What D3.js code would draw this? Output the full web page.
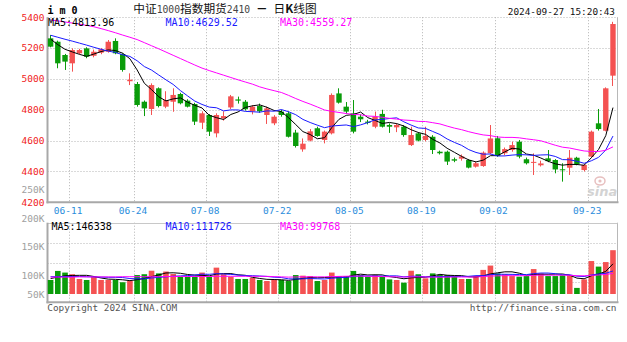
<!DOCTYPE html>
<html>
<head>
<meta charset="utf-8">
<script src="https://cdn.jsdelivr.net/npm/d3@7"></script>
<style>
  html, body { margin: 0; padding: 0; background: #fff; }
  svg { display: block; }
</style>
</head>
<body>
<svg id="chart" width="627" height="342"></svg>
<script>
// ---- IM2410 daily bars (trading days, MM-DD) ----
const dates = [
  "06-06","06-07","06-11","06-12","06-13","06-14","06-17","06-18","06-19","06-20",
  "06-21","06-24","06-25","06-26","06-27","06-28","07-01","07-02","07-03","07-04",
  "07-05","07-08","07-09","07-10","07-11","07-12","07-15","07-16","07-17","07-18",
  "07-19","07-22","07-23","07-24","07-25","07-26","07-29","07-30","07-31","08-01",
  "08-02","08-05","08-06","08-07","08-08","08-09","08-12","08-13","08-14","08-15",
  "08-16","08-19","08-20","08-21","08-22","08-23","08-26","08-27","08-28","08-29",
  "08-30","09-02","09-03","09-04","09-05","09-06","09-09","09-10","09-11","09-12",
  "09-13","09-18","09-19","09-20","09-23","09-24","09-25","09-26","09-27"
];
const opens = [
  5263,5241,5155,5101,5166,5198,5150,5170,5176,5246,
  5161,4985,4967,4852,4805,4939,4820,4852,4902,4859,
  4837,4716,4766,4647,4744,4815,4867,4852,4790,4824,
  4766,4712,4788,4777,4652,4543,4600,4680,4604,4647,
  4906,4820,4777,4755,4723,4690,4773,4701,4686,4690,
  4571,4647,4604,4625,4528,4528,4479,4483,4474,4431,
  4435,4518,4615,4518,4539,4593,4479,4460,4440,4485,
  4474,4414,4424,4489,4409,4496,4712,4664,5021
];
const highs = [
  5284,5248,5162,5198,5195,5205,5190,5200,5252,5263,
  5166,5036,4980,4860,4971,4945,4920,4939,4910,4868,
  4845,4790,4772,4777,4790,4896,4885,4863,4830,4840,
  4820,4765,4800,4790,4670,4614,4675,4690,4665,4906,
  4939,4850,4863,4770,4735,4788,4800,4712,4712,4700,
  4690,4655,4690,4635,4535,4535,4490,4510,4480,4462,
  4530,4701,4630,4555,4593,4604,4490,4517,4470,4539,
  4480,4453,4539,4495,4450,4665,4805,4945,5370
];
const lows = [
  5205,5069,5058,5047,5158,5134,5140,5160,5170,5160,
  5047,4960,4820,4759,4766,4815,4810,4787,4835,4815,
  4701,4675,4630,4621,4730,4805,4840,4795,4770,4780,
  4708,4700,4755,4620,4555,4528,4595,4625,4582,4640,
  4840,4775,4647,4720,4705,4680,4685,4650,4655,4625,
  4565,4595,4595,4513,4510,4442,4460,4470,4420,4425,
  4430,4510,4495,4505,4528,4485,4445,4377,4432,4460,
  4388,4334,4377,4440,4400,4490,4665,4660,4954
];
const closes = [
  5209,5101,5112,5187,5187,5144,5176,5192,5241,5166,
  5058,4995,4831,4809,4960,4824,4863,4896,4842,4820,
  4723,4777,4658,4766,4759,4887,4859,4803,4820,4790,
  4809,4755,4766,4625,4565,4580,4660,4630,4658,4896,
  4846,4788,4658,4738,4715,4755,4690,4690,4701,4636,
  4636,4600,4630,4539,4518,4464,4470,4497,4424.9,4453,
  4522,4614,4500,4545,4571,4496,4453,4462,4452,4467,
  4413,4409,4489,4447.4,4442,4658,4675,4939,5355.8
];
const volumes = [
  68000,112000,104000,96000,73000,68000,84000,68000,68000,68000,
  57000,63000,92000,96000,113000,100000,109000,97000,84000,84000,
  84000,104000,84000,128000,96000,84000,73000,73000,79000,68000,
  63000,68000,68000,63000,92000,89000,87000,63000,68000,104000,
  87000,87000,112000,92000,84000,92000,84000,71000,68000,55000,
  113000,96000,76000,100000,92000,92000,89000,73000,73000,87000,
  117000,138000,100000,96000,87000,84000,87000,121000,99780,87000,
  87000,91000,91000,29570,71000,160000,133000,155000,212690
];

// Moving-average values on the first days, before a full window of bars exists
const priceMa5Head = [5258, 5222, 5192, 5175];
const priceMa10Head = [5283, 5270, 5257, 5245, 5232, 5219, 5205, 5192, 5180];
const priceMa30Head = [
  5382, 5376, 5369, 5362, 5355, 5347, 5338, 5326, 5313, 5299,
  5284, 5270, 5255, 5235, 5215, 5195, 5174, 5153, 5132, 5111,
  5090, 5070, 5054, 5039, 5024, 5009, 4994, 4980, 4966
];
const volMa5Head = [75000, 82000, 88000, 90000];
const volMa10Head = [84000, 84000, 85000, 85000, 85000, 84000, 83000, 82000, 81000];
const volMa30Head = [
  82000, 82000, 82000, 82000, 83000, 83000, 83000, 83000, 83000, 83000,
  84000, 84000, 84000, 84000, 84000, 84000, 85000, 85000, 85000, 85000,
  85000, 85000, 85000, 86000, 86000, 86000, 86000, 86000, 86000
];

const priceTicks = [5400, 5200, 5000, 4800, 4600, 4400, 4200];
const volumeTicks = [250000, 200000, 150000, 100000, 50000];
const dateTicks = ["06-11", "06-24", "07-08", "07-22", "08-05", "08-19", "09-02", "09-23"];

// ---- layout ----
const svg = d3.select("#chart");
const MONO = "'DejaVu Sans Mono', 'Liberation Mono', monospace";
const CJK = "'Noto Sans CJK SC', 'Noto Sans', sans-serif";
const UP = "#f45252", DOWN = "#0a9c0a";
const MA_COLORS = ["#000000", "#1a1aff", "#ff00ff"];

const price = { left: 47.5, right: 617.5, top: 17.2, bottom: 202.3 };
const vol = { top: 222.7, bottom: 302.3, base: 294 };

const x = d3.scaleBand().domain(dates).range([price.left, price.left + 7.21 * dates.length]);
const step = x.step();
const bodyW = 5.4;
const cx = d => x(d) + 0.4 + bodyW / 2;

const y = d3.scaleLinear().domain([4200, 5400]).range([price.bottom, price.top]);
const yv = d3.scaleLinear().domain([0, 350000]).range([vol.base, vol.base - 72.1]);
// volume axis captions use their own spacing, held inside the panel at the bottom
const yvLabel = d3.scaleLinear().domain([100000, 250000]).range([275.8, 189.7]);

const px = v => Math.round(v) + 0.5;

function movingAverage(values, n, head) {
  return values.map((v, i) => i < n - 1 ? head[i] : d3.mean(values.slice(i - n + 1, i + 1)));
}
const priceMAs = [
  movingAverage(closes, 5, priceMa5Head),
  movingAverage(closes, 10, priceMa10Head),
  movingAverage(closes, 30, priceMa30Head)
];
const volMAs = [
  movingAverage(volumes, 5, volMa5Head),
  movingAverage(volumes, 10, volMa10Head),
  movingAverage(volumes, 30, volMa30Head)
];

// ---- grid ----
const grid = svg.append("g").attr("stroke", "#b4b4b4").attr("stroke-width", 1)
  .attr("stroke-dasharray", "1,2").attr("fill", "none");
priceTicks.filter(v => v > 4200).forEach(v => {
  grid.append("line").attr("x1", price.left).attr("x2", price.right)
    .attr("y1", px(y(v))).attr("y2", px(y(v)));
});
[1, 2, 3].forEach(k => {
  const yy = px(vol.top + (vol.bottom - vol.top) * k / 4);
  grid.append("line").attr("x1", price.left).attr("x2", price.right).attr("y1", yy).attr("y2", yy);
});
dateTicks.forEach(d => {
  const gx = px(x(d) + step);
  grid.append("line").attr("x1", gx).attr("x2", gx).attr("y1", price.top).attr("y2", price.bottom);
  grid.append("line").attr("x1", gx).attr("x2", gx).attr("y1", vol.top).attr("y2", vol.bottom);
});

// ---- frames ----
const frame = svg.append("g").attr("fill", "none");
frame.append("line").attr("x1", price.right).attr("x2", price.right)
  .attr("y1", price.top).attr("y2", price.bottom).attr("stroke", "#b8b8b8");
frame.append("line").attr("x1", price.right).attr("x2", price.right)
  .attr("y1", vol.top).attr("y2", vol.bottom).attr("stroke", "#b8b8b8");
frame.append("line").attr("x1", price.left).attr("x2", price.right)
  .attr("y1", px(vol.top)).attr("y2", px(vol.top)).attr("stroke", "#c8c8c8");
frame.append("line").attr("x1", price.left - 1).attr("x2", price.right + 1)
  .attr("y1", price.bottom).attr("y2", price.bottom).attr("stroke", "#a8a8a8").attr("stroke-width", 2);
frame.append("line").attr("x1", price.left - 1).attr("x2", price.right + 1)
  .attr("y1", vol.bottom).attr("y2", vol.bottom).attr("stroke", "#a8a8a8").attr("stroke-width", 2);
frame.append("line").attr("x1", price.left).attr("x2", price.left)
  .attr("y1", price.top).attr("y2", price.bottom + 1).attr("stroke", "#a8a8a8").attr("stroke-width", 2);
frame.append("line").attr("x1", price.left).attr("x2", price.left)
  .attr("y1", vol.top).attr("y2", vol.bottom + 1).attr("stroke", "#a8a8a8").attr("stroke-width", 2);

// ---- watermark ----
const mark = svg.append("g").attr("opacity", 0.9);
mark.append("ellipse").attr("cx", 600).attr("cy", 181).attr("rx", 5).attr("ry", 4)
  .attr("fill", "none").attr("stroke", "#e5b9b9").attr("stroke-width", 1.5);
mark.append("circle").attr("cx", 600).attr("cy", 181).attr("r", 1.6).attr("fill", "#e5b9b9");
mark.append("text").attr("x", 587).attr("y", 195.5).text("sina")
  .attr("font-family", "'DejaVu Sans', sans-serif").attr("font-style", "italic")
  .attr("font-weight", "bold").attr("font-size", 13).attr("fill", "#cfcfcf");

// ---- candles ----
const bars = dates.map((d, i) => ({
  d, o: opens[i], h: highs[i], l: lows[i], c: closes[i], v: volumes[i],
  up: closes[i] >= opens[i]
}));
const cg = svg.append("g");
cg.selectAll("line").data(bars).join("line")
  .attr("x1", d => px(cx(d.d) - 0.5)).attr("x2", d => px(cx(d.d) - 0.5))
  .attr("y1", d => y(d.h)).attr("y2", d => y(d.l))
  .attr("stroke", d => d.up ? UP : DOWN).attr("stroke-width", 1);
cg.selectAll("rect").data(bars).join("rect")
  .attr("x", d => x(d.d) + 0.4).attr("width", bodyW)
  .attr("y", d => y(Math.max(d.o, d.c)))
  .attr("height", d => Math.max(1, Math.abs(y(d.o) - y(d.c))))
  .attr("fill", d => d.up ? UP : DOWN);

// ---- volume bars ----
svg.append("g").selectAll("rect").data(bars).join("rect")
  .attr("x", d => x(d.d) + 0.3).attr("width", 5.6)
  .attr("y", d => yv(d.v)).attr("height", d => yv(0) - yv(d.v))
  .attr("fill", d => d.up ? UP : DOWN);

// ---- moving-average lines ----
const idx = d3.range(dates.length);
priceMAs.forEach((ma, k) => {
  svg.append("path").datum(idx)
    .attr("d", d3.line().x(i => cx(dates[i])).y(i => y(ma[i])))
    .attr("fill", "none").attr("stroke", MA_COLORS[k]).attr("stroke-width", 1);
});
volMAs.forEach((ma, k) => {
  svg.append("path").datum(idx)
    .attr("d", d3.line().x(i => cx(dates[i])).y(i => yv(ma[i])))
    .attr("fill", "none").attr("stroke", MA_COLORS[k]).attr("stroke-width", 1);
});

// ---- axis labels ----
const txt = (sel, size) => sel.attr("font-family", MONO).attr("font-size", size);
priceTicks.forEach(v => {
  txt(svg.append("text"), 9.5).attr("x", 44.5).attr("y", Math.max(y(v), 15) + 3.3)
    .attr("text-anchor", "end").attr("fill", "#f01c1c").text(v);
});
volumeTicks.forEach(v => {
  txt(svg.append("text"), 9.5).attr("x", 44.5).attr("y", Math.min(yvLabel(v), 295) + 3.3)
    .attr("text-anchor", "end").attr("fill", "#a0a0a0").text(d3.format("d")(v / 1000) + "K");
});
dateTicks.forEach(d => {
  txt(svg.append("text"), 9.5).attr("x", x(d) + step - 1).attr("y", 213.5)
    .attr("text-anchor", "middle").attr("fill", "#2a8ddc").text(d);
});

// ---- moving-average captions ----
const last = dates.length - 1;
const maNames = ["MA5", "MA10", "MA30"];
const maX = [48, 165.5, 280];
priceMAs.forEach((ma, k) => {
  txt(svg.append("text"), 10).attr("x", maX[k]).attr("y", 25.5).attr("fill", MA_COLORS[k])
    .text(maNames[k] + ":" + d3.format(".2f")(ma[last]));
});
const volMaX = [51.5, 165.5, 280];
volMAs.forEach((ma, k) => {
  txt(svg.append("text"), 10).attr("x", volMaX[k]).attr("y", 230.3).attr("fill", MA_COLORS[k])
    .text(maNames[k] + ":" + Math.round(ma[last]));
});

// ---- header ----
txt(svg.append("text"), 10).attr("x", 47.5).attr("y", 14).attr("font-weight", "bold")
  .attr("fill", "#000").text("i m 0");

const title = svg.append("text").attr("x", 133.3).attr("y", 13)
  .attr("font-family", CJK).attr("font-size", 11.7).attr("fill", "#111");
const titleParts = [
  ["中证", CJK, 11.7, "normal"], ["1000", MONO, 9.7, "normal"],
  ["指数期货", CJK, 11.7, "normal"], ["2410", MONO, 9.7, "normal"],
  [" ", MONO, 9.7, "normal"], ["－", CJK, 11.7, "bold"], [" ", MONO, 9.7, "normal"],
  ["日", CJK, 11.7, "normal"], ["K", CJK, 11.7, "bold"], ["线图", CJK, 11.7, "normal"]
];
titleParts.forEach(([s, f, size, w]) => {
  title.append("tspan").attr("font-family", f).attr("font-size", size)
    .attr("font-weight", w).attr("fill", f === MONO ? "#444" : "#111").text(s);
});

txt(svg.append("text"), 9.4).attr("x", 615).attr("y", 15).attr("text-anchor", "end")
  .attr("fill", "#111").text("2024-09-27 15:20:43");

// ---- footer ----
txt(svg.append("text"), 9.4).attr("x", 47.3).attr("y", 311).attr("fill", "#555")
  .text("Copyright 2024 SINA.COM");
txt(svg.append("text"), 9.4).attr("x", 616.5).attr("y", 311).attr("text-anchor", "end")
  .attr("fill", "#555").text("http://finance.sina.com.cn");
</script>
</body>
</html>
